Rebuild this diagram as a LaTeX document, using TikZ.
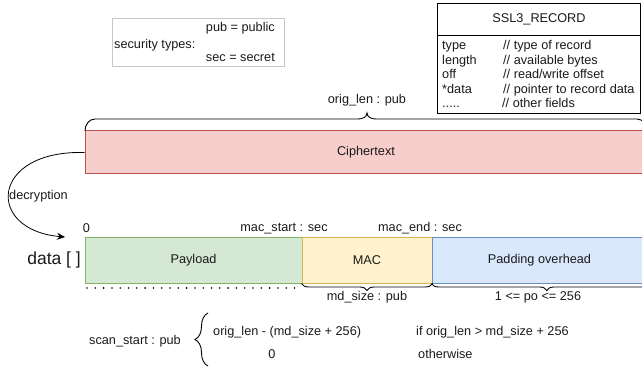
\documentclass[tikz,border=0pt]{standalone}
\usepackage{fontspec}
\setmainfont{Liberation Sans}
\usetikzlibrary{decorations.pathreplacing,arrows.meta}

\definecolor{cipherfill}{HTML}{F8CECC}
\definecolor{cipherline}{HTML}{B85450}
\definecolor{payfill}{HTML}{D5E8D4}
\definecolor{payline}{HTML}{82B366}
\definecolor{macfill}{HTML}{FFF2CC}
\definecolor{macline}{HTML}{D6B656}
\definecolor{padfill}{HTML}{DAE8FC}
\definecolor{padline}{HTML}{6C8EBF}
\definecolor{textgray}{HTML}{1A1A1A}

\begin{document}
\begin{tikzpicture}[x=1pt,y=-1pt,
		txt/.style={font=\fontsize{12.7}{15}\selectfont, text=textgray, inner sep=0pt, text height=9pt, text depth=2.5pt},
		block/.style={draw, line width=1pt, inner sep=0pt, text=textgray, font=\fontsize{12.7}{15}\selectfont},
		brc/.style={decorate, decoration={brace, amplitude=#1}, line width=0.9pt},
	]

		\useasboundingbox (0,0) rectangle (642,371);

		% legend
		\draw[draw=black!22, line width=0.9pt] (112,18) rectangle (284,66);
		\node[txt, anchor=east] (pubdef) at (275,28) {pub = public};
		\node[txt, anchor=west] (sectitle) at (114,45) {security types:};
		\node[txt, anchor=east] (secdef) at (275,58) {sec = secret};

		% record struct
		\draw[line width=0.9pt] (437,3) rectangle (640.5,113.5);
		\draw[line width=0.9pt] (437,35) -- (640.5,35);
		\node[txt] (rectitle) at (539,19) {SSL3\_RECORD};
		\node[txt, anchor=west] (fldtype) at (442,46.5) {type};
		\node[txt, anchor=west] (cmttype) at (503,46.5) {// type of record};
		\node[txt, anchor=west] (fldlen) at (442,61) {length};
		\node[txt, anchor=west] (cmtlen) at (503,61) {// available bytes};
		\node[txt, anchor=west] (fldoff) at (442,75.5) {off};
		\node[txt, anchor=west] (cmtoff) at (503,75.5) {// read/write offset};
		\node[txt, anchor=west] (flddata) at (442,90) {*data};
		\node[txt, anchor=west] (cmtdata) at (503,90) {// pointer to record data};
		\node[txt, anchor=west] (fldrest) at (442,104.5) {.....};
		\node[txt, anchor=west] (cmtrest) at (502,104.5) {// other fields};

		% ciphertext
		\node[block, fill=cipherfill, draw=cipherline, minimum width=562pt, minimum height=43pt] (cipher) at (366,152.5) {Ciphertext};
		\draw[line width=0.9pt] (85,131) to[out=90,in=180] (95,119) -- (358,119) to[out=0,in=-90] (367,113)
			to[out=-90,in=180] (376,119) -- (637,119) to[out=0,in=90] (647,131);
		\node[txt] (origlen) at (367,100) {orig\_len : pub};

		% data array
		\node[txt, font=\fontsize{17.5}{20}\selectfont, text height=12.5pt, text depth=3.5pt, anchor=east] (datalbl) at (81,260.5) {data [ ]};
		\node[block, fill=payfill, draw=payline, minimum width=217pt, minimum height=45pt] (payload) at (193.5,260.5) {Payload};
		\node[block, fill=macfill, draw=macline, minimum width=130pt, minimum height=45pt] (mac) at (367,260.5) {MAC};
		\node[block, fill=padfill, draw=padline, minimum width=215pt, minimum height=45pt] (padding) at (539.5,260.5) {Padding overhead};

		\node[txt] (zero) at (86.5,229) {0};
		\node[txt] (macstart) at (284,228) {mac\_start : sec};
		\node[txt] (macend) at (420,228) {mac\_end : sec};

		\draw[line width=1.8pt, line cap=round, dash pattern=on 0pt off 8.3pt] (87,288) -- (300,288);
		\draw[brc=7pt] (mac.south east) -- (mac.south west);
		\node[txt] (mdsize) at (367,297) {md\_size : pub};
		\draw[brc=7pt] (662,283.5) -- (padding.south west);
		\node[txt] (polen) at (538,297) {1 <= po <= 256};

		% decryption
		\coordinate (arrowend) at (65,237);
		\draw[-{Stealth[length=8pt,width=7pt]}, line width=0.8pt] (cipher.west) .. controls (-10,150) and (-15,230) .. (arrowend);
		\node[txt, fill=white, anchor=west] (decr) at (9,196) {decryption};

		% scan start
		\node[txt] (scanstart) at (135,341) {scan\_start : pub};
		\draw[brc=13pt] (208,366) -- (208,313);
		\node[txt, anchor=west] (case1) at (213,332) {orig\_len - (md\_size + 256)};
		\node[txt] (case2) at (272,355) {0};
		\node[txt, anchor=west] (cond1) at (416,332) {if orig\_len > md\_size + 256};
		\node[txt, anchor=west] (cond2) at (418,355) {otherwise};

\end{tikzpicture}
\end{document}
